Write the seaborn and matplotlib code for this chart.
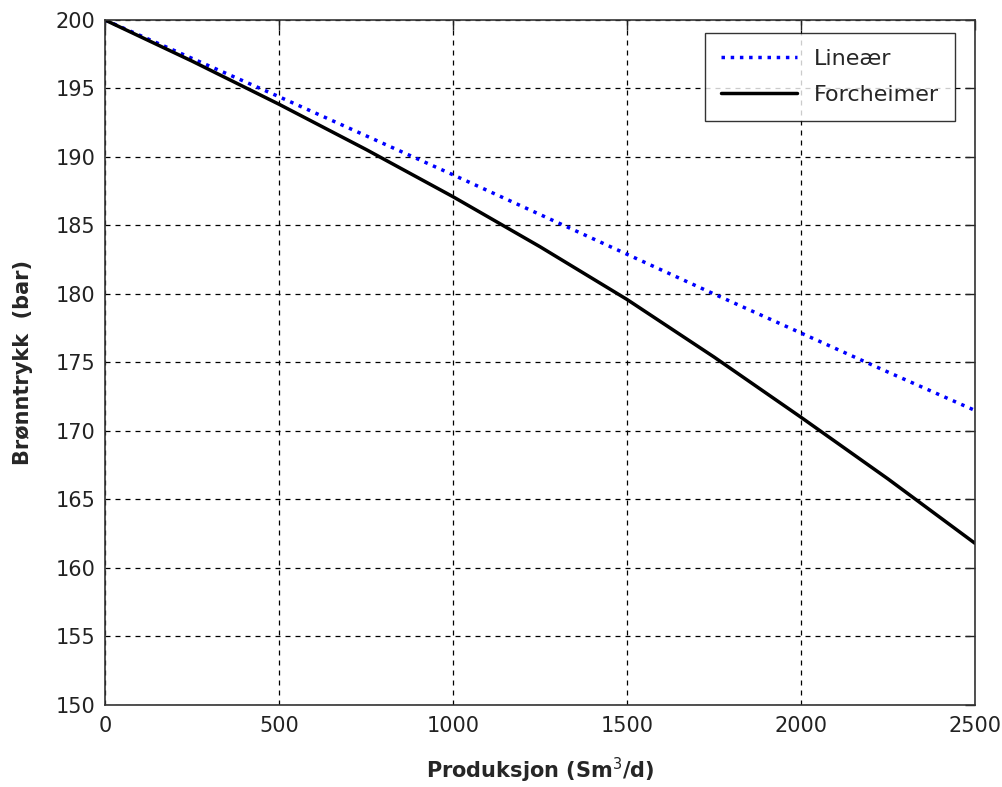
import pandas as pd
import seaborn as sns
import matplotlib.pyplot as plt

# production (Sm3/d) and well pressure (bar)
produksjon = [0, 250, 500, 750, 1000, 1250, 1500, 1750, 2000, 2250, 2500]
linear = [200, 197.2, 194.4, 191.55, 188.7, 185.8, 182.9, 180.0, 177.15, 174.3, 171.5]
forcheimer = [200, 197.0, 193.85, 190.55, 187.1, 183.45, 179.6, 175.4, 171.0, 166.5, 161.8]

df = pd.DataFrame({"q": produksjon, "Lineær": linear, "Forcheimer": forcheimer})

sns.set_style("white")
plt.rcParams["font.family"] = ["DejaVu Sans"]

fig = plt.figure(figsize=(10.03, 7.87), dpi=100)
ax = fig.add_axes([0.1047, 0.1042, 0.8674, 0.8704])

sns.lineplot(x="q", y="Lineær", data=df, ax=ax, color="#0000ff",
             linestyle=":", linewidth=2.5, label="Lineær")
sns.lineplot(x="q", y="Forcheimer", data=df, ax=ax, color="black",
             linewidth=2.5, label="Forcheimer")

ax.set_xlim(0, 2500)
ax.set_ylim(150, 200)
ax.set_xticks(range(0, 2501, 500))
ax.set_yticks(range(150, 201, 5))
ax.grid(True, color="black", linestyle=(0, (4, 4)), linewidth=0.9)
ax.tick_params(direction="in", length=7, width=1, top=True, right=True,
               labelsize=15, colors="#222222")
ax.tick_params(axis="x", pad=8)
ax.tick_params(axis="y", pad=7)
for s in ax.spines.values():
    s.set_color("#333333")
    s.set_linewidth(1.2)

ax.set_xlabel("Produksjon (Sm$^3$/d)", fontsize=15, fontweight="bold", labelpad=14)
ax.set_ylabel("Brønntrykk  (bar)", fontsize=15, fontweight="bold", labelpad=16)

leg = ax.legend(loc="upper right", bbox_to_anchor=(0.977, 0.981), fontsize=16,
                frameon=True, fancybox=False, edgecolor="black",
                handlelength=3.4, handletextpad=0.8, borderpad=0.7,
                labelspacing=0.75, borderaxespad=0)
leg.get_frame().set_linewidth(1.0)

fig.savefig("out.png", dpi=100)
